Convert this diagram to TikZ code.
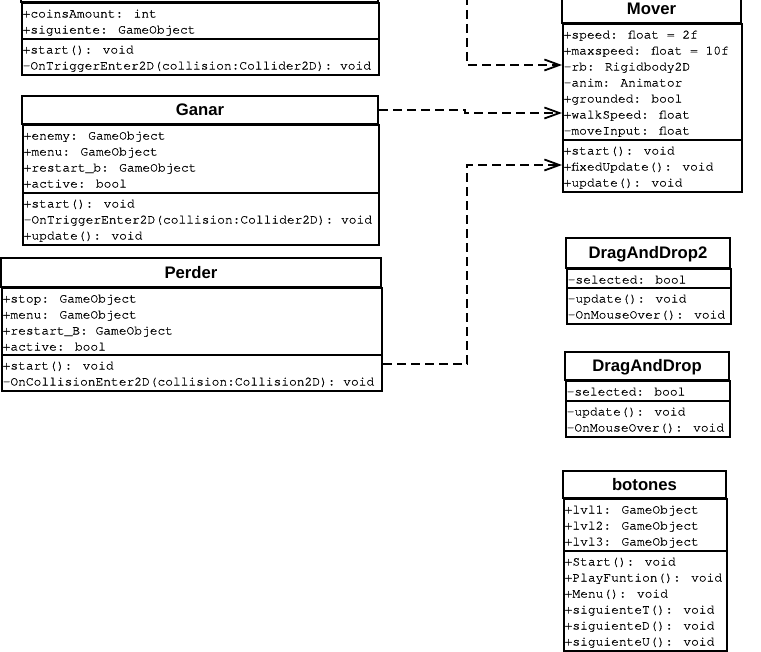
\documentclass[tikz,border=0pt]{standalone}
\usepackage{fontspec}
\usetikzlibrary{arrows.meta}
\newfontfamily\umlmono[FakeBold=0.6]{texgyrecursor-regular.otf}
\newfontfamily\umltitle{Liberation Sans}
\tikzset{
  x=1pt, y=-1pt,
  sect/.style={draw, line width=2pt, inner sep=0pt, rectangle, fill=white},
  titletext/.style={inner sep=0pt, text height=12pt, text depth=0pt, font=\umltitle\bfseries\fontsize{16.7}{18}\selectfont},
  mono/.style={inner sep=0pt, anchor=base west, font=\umlmono\fontsize{12.9}{16}\selectfont, text=black},
  dep/.style={line width=2.2pt, dash pattern=on 9pt off 5pt, -{Straight Barb[length=15pt,width=11pt,line width=1.8pt]}},
}
\newcommand\umlclass[8]{%
  \pgfmathsetmacro\uW{#3-#2}%
  \pgfmathsetmacro\uHa{#5-#4}%
  \pgfmathsetmacro\uHb{#6-#5}%
  \pgfmathsetmacro\uHc{#7-#6}%
  \pgfmathsetmacro\uCx{(#2+#3)/2}%
  \pgfmathsetmacro\uCy{(#4+#5)/2}%
  \node[sect, minimum width=\uW pt, minimum height=\uHa pt] (#1-h) at (\uCx,\uCy) {};
  \node[titletext] (#1-t) at (\uCx,\uCy) {#8};
  \node[sect, anchor=north west, minimum width=\uW pt, minimum height=\uHb pt] (#1-a) at (#2,#5) {};
  \node[sect, anchor=north west, minimum width=\uW pt, minimum height=\uHc pt] (#1-m) at (#2,#6) {};
}
\newcommand\umllines[4]{%
  \foreach \t [count=\i from 0] in {#4} {%
    \pgfmathsetmacro\uy{#3+15.5+16*\i}%
    \node[mono] (#1\i) at (#2+1.5,\uy) {\t};
  }%
}
\begin{document}
\begin{tikzpicture}
\useasboundingbox (0,0) rectangle (761,652);
\fill[white] (0,0) rectangle (761,652);
\clip (0,0) rectangle (761,652);

% top (partly visible) class
\umlclass{top}{21}{378}{-30}{2}{38}{74}{}
\umllines{top-a}{21}{2}{+coinsAmount: int,+siguiente: GameObject}
\umllines{top-m}{21}{38}{+start(): void,-OnTriggerEnter2D(collision:Collider2D): void}

% Mover
\umlclass{mover}{562}{741}{-5}{23}{139}{191}{Mover}
\umllines{mover-a}{562}{23}{+speed: float = 2f,+maxspeed: float = 10f,-rb: Rigidbody2D,-anim: Animator,+grounded: bool,+walkSpeed: float,-moveInput: float}
\umllines{mover-m}{562}{139}{+start(): void,+fixedUpdate(): void,+update(): void}

% Ganar
\umlclass{ganar}{22}{378}{96}{124}{192}{244}{Ganar}
\umllines{ganar-a}{22}{124}{+enemy: GameObject,+menu: GameObject,+restart\_b: GameObject,+active: bool}
\umllines{ganar-m}{22}{192}{+start(): void,-OnTriggerEnter2D(collision:Collider2D): void,+update(): void}

% Perder
\umlclass{perder}{1}{381}{258}{287}{354}{390}{Perder}
\umllines{perder-a}{1}{287}{+stop: GameObject,+menu: GameObject,+restart\_B: GameObject,+active: bool}
\umllines{perder-m}{1}{354}{+start(): void,-OnCollisionEnter2D(collision:Collision2D): void}

% DragAndDrop2
\umlclass{dd2}{566}{730}{238}{268}{287}{323}{DragAndDrop2}
\umllines{dd2-a}{566}{268}{-selected: bool}
\umllines{dd2-m}{566}{287}{-update(): void,-OnMouseOver(): void}

% DragAndDrop
\umlclass{dd}{565}{729}{352}{380}{400}{436}{DragAndDrop}
\umllines{dd-a}{565}{380}{-selected: bool}
\umllines{dd-m}{565}{400}{-update(): void,-OnMouseOver(): void}

% botones
\umlclass{bot}{563}{726}{471}{498}{550}{650}{botones}
\umllines{bot-a}{563}{498}{+lvl1: GameObject,+lvl2: GameObject,+lvl3: GameObject}
\umllines{bot-m}{563}{550}{+Start(): void,+PlayFuntion(): void,+Menu(): void,+siguienteT(): void,+siguienteD(): void,+siguienteU(): void}

% connectors
\coordinate (cin) at (467,-4);
\draw[dep] (cin) -- (467,65) -- (mover-a.west |- 0,65);
\draw[dep] (ganar-h.east) -- (465,110) -- (465,113) -- (mover-a.west |- 0,113);
\draw[dep] (perder-m.east |- 0,364) -- (467,364) -- (467,165) -- (mover-m.west |- 0,165);
\end{tikzpicture}
\end{document}
